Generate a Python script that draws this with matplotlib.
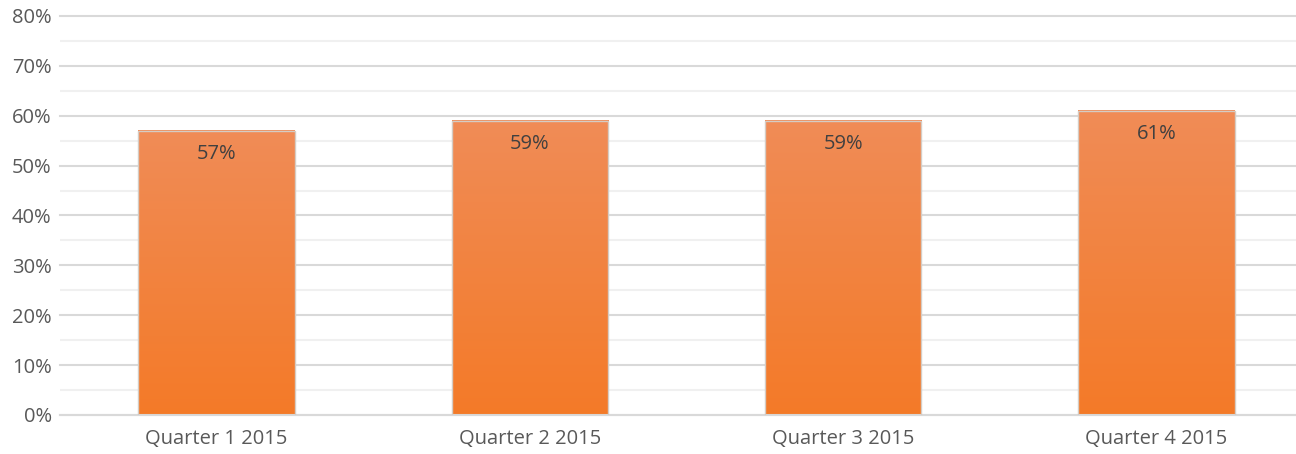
import numpy as np
import matplotlib.pyplot as plt
from matplotlib.colors import LinearSegmentedColormap
from matplotlib.ticker import MultipleLocator, FuncFormatter

categories = ["Quarter 1 2015", "Quarter 2 2015", "Quarter 3 2015", "Quarter 4 2015"]
values = [57, 59, 59, 61]

plt.rcParams['font.family'] = ['Open Sans', 'DejaVu Sans']
text_color = "#595959"

fig = plt.figure(figsize=(12.96, 4.54), dpi=100)
# axes runs slightly past the right edge, like the cropped original
ax = fig.add_axes([60 / 1296, 39 / 454, 1253 / 1296, 399 / 454])

x = np.arange(len(categories))
width = 0.5
bars = ax.bar(x, values, width=width, color="none", edgecolor="#D5CCC4",
              linewidth=1.0, zorder=3)

# vertical orange gradient inside each bar
cmap = LinearSegmentedColormap.from_list("orange", ["#F47A28", "#F08C57"])
grad = np.linspace(0, 1, 256).reshape(-1, 1)
for b in bars:
    x0, y0 = b.get_x(), b.get_y()
    w, h = b.get_width(), b.get_height()
    ax.imshow(grad, cmap=cmap, origin="lower", aspect="auto",
              extent=[x0, x0 + w, y0, y0 + h], zorder=2)

for xi, v in zip(x, values):
    ax.annotate(f"{v}%", (xi, v), xytext=(0, -17), textcoords="offset points",
                ha="center", va="center", fontsize=14.5, color="#404040", zorder=4)

ax.set_xlim(-0.5, len(categories) - 0.5)
ax.set_ylim(0, 80)
ax.yaxis.set_major_locator(MultipleLocator(10))
ax.yaxis.set_minor_locator(MultipleLocator(5))
ax.yaxis.set_major_formatter(FuncFormatter(lambda v, p: f"{v:.0f}%"))
ax.grid(axis="y", which="major", color="#D9D9D9", linewidth=1.5, zorder=0)
ax.grid(axis="y", which="minor", color="#F0F0F0", linewidth=1.5, zorder=0)
ax.set_axisbelow(True)
for line in ax.get_ygridlines():
    line.set_clip_on(False)

ax.set_xticks(x)
ax.set_xticklabels(categories)
ax.tick_params(axis="both", which="both", length=0, labelsize=14.5,
               labelcolor=text_color)
ax.tick_params(axis="y", pad=6)
ax.tick_params(axis="x", pad=10)

for s in ["top", "right", "left"]:
    ax.spines[s].set_visible(False)
ax.spines["bottom"].set_color("#D9D9D9")
ax.spines["bottom"].set_linewidth(1.5)

fig.savefig("out.png", dpi=100)
